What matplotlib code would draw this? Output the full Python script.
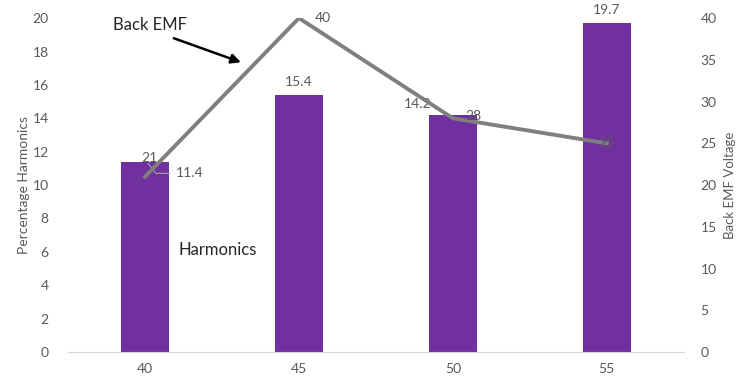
import matplotlib.pyplot as plt
import numpy as np

plt.rcParams['font.family'] = ['Lato', 'DejaVu Sans']

speeds = ['40', '45', '50', '55']
harmonics = [11.4, 15.4, 14.2, 19.7]
back_emf = [21, 40, 28, 25]

purple = '#7030A0'
grey_line = '#7f7f7f'
txt = '#595959'

fig = plt.figure(figsize=(7.4, 3.79), dpi=100)
ax = fig.add_axes([0.092, 0.0712, 0.832, 0.881])
x = np.arange(len(speeds))

ax.bar(x, harmonics, width=0.31, color=purple, zorder=2)
ax.set_xlim(-0.5, 3.5)
ax.set_ylim(0, 20)
ax.set_yticks(np.arange(0, 21, 2))
ax.set_xticks(x)
ax.set_xticklabels(speeds)
for s in ['top', 'right', 'left']:
    ax.spines[s].set_visible(False)
ax.spines['bottom'].set_color('#d9d9d9')
ax.tick_params(length=0, colors=txt, labelsize=10)
ax.tick_params(axis='y', pad=14)
ax.tick_params(axis='x', pad=8)
ax.set_ylabel('Percentage Harmonics', color=txt, fontsize=10, labelpad=2)

# bar value labels
ax.text(x[0] + 0.2, harmonics[0] - 0.7, f'{harmonics[0]}', color=txt, fontsize=10,
        ha='left', va='center')
ax.plot([x[0] + 0.02, x[0] + 0.07, x[0] + 0.16],
        [harmonics[0] - 0.1, harmonics[0] - 0.7, harmonics[0] - 0.7],
        color='#a6a6a6', lw=0.8, zorder=4)
ax.text(x[1], harmonics[1] + 0.4, f'{harmonics[1]}', color=txt, fontsize=10,
        ha='center', va='bottom')
ax.text(x[2] - 0.23, harmonics[2] + 0.3, f'{harmonics[2]}', color=txt, fontsize=10,
        ha='center', va='bottom')
ax.text(x[3], harmonics[3] + 0.4, f'{harmonics[3]}', color=txt, fontsize=10,
        ha='center', va='bottom')

ax.text(0.475, 6.1, 'Harmonics', color='#262626', fontsize=12, ha='center', va='center')

ax2 = ax.twinx()
ax2.plot(x, back_emf, color=grey_line, lw=2.8, zorder=3)
ax2.set_ylim(0, 40)
ax2.set_yticks(np.arange(0, 41, 5))
for s in ['top', 'right', 'left', 'bottom']:
    ax2.spines[s].set_visible(False)
ax2.tick_params(length=0, colors=txt, labelsize=10, pad=12)
ax2.set_ylabel('Back EMF Voltage', color=txt, fontsize=9.5, labelpad=5)

# line value labels
ax2.text(x[0] + 0.03, back_emf[0] + 1.5, f'{back_emf[0]}', color=txt, fontsize=10,
         ha='center', va='bottom')
ax2.text(x[1] + 0.1, back_emf[1], f'{back_emf[1]}', color=txt, fontsize=10,
         ha='left', va='center')
ax2.text(x[2] + 0.08, back_emf[2] + 0.3, f'{back_emf[2]}', color=txt, fontsize=10,
         ha='left', va='center')
ax2.text(x[3], back_emf[3], f'{back_emf[3]}', color=txt, fontsize=10,
         ha='center', va='center')

ax2.text(0.03, 39.2, 'Back EMF', color='#262626', fontsize=12, ha='center', va='center')
ax2.annotate('', xy=(0.64, 34.6), xytext=(0.17, 37.7),
             arrowprops=dict(arrowstyle='-|>', color='black', lw=1.8,
                             mutation_scale=14))

fig.savefig('out.png', dpi=100)
